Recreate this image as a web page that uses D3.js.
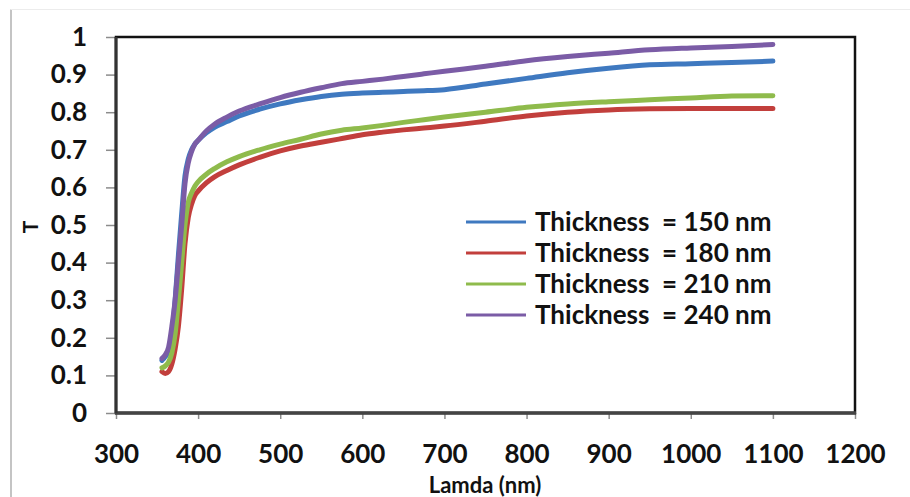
<!DOCTYPE html>
<html>
<head>
<meta charset="utf-8">
<script src="https://cdn.jsdelivr.net/npm/d3@7"></script>
<style>
  html, body { margin: 0; padding: 0; background: #fff; }
  svg { display: block; font-family: Lato, "Noto Sans", sans-serif; font-weight: 700; }
  .legend text { white-space: pre; }
</style>
</head>
<body>
<svg id="chart" width="910" height="497"></svg>
<script>
// Wavelength samples (nm)
const lambda = [356, 360, 364, 368, 372, 376, 380, 384, 388, 392, 396, 400, 410, 420, 435, 450,
  475, 500, 525, 550, 575, 600, 625, 650, 675, 700, 750, 800, 850, 900, 950, 1000, 1050, 1100];

// Transmittance for each film thickness
const t150 = [0.14, 0.15, 0.165, 0.21, 0.30, 0.42, 0.53, 0.63, 0.675, 0.70, 0.715, 0.725, 0.745, 0.76, 0.775, 0.79,
  0.808, 0.822, 0.833, 0.842, 0.848, 0.851, 0.853, 0.855, 0.857, 0.860, 0.875, 0.89, 0.905, 0.917, 0.926, 0.929, 0.932, 0.936];
const t180 = [0.11, 0.105, 0.11, 0.13, 0.17, 0.23, 0.33, 0.45, 0.52, 0.555, 0.578, 0.59, 0.612, 0.628, 0.645, 0.66,
  0.68, 0.697, 0.71, 0.72, 0.73, 0.74, 0.747, 0.753, 0.758, 0.763, 0.776, 0.79, 0.80, 0.806, 0.809, 0.81, 0.81, 0.81];
const t210 = [0.12, 0.125, 0.135, 0.16, 0.21, 0.30, 0.40, 0.50, 0.56, 0.585, 0.603, 0.615, 0.635, 0.65, 0.668, 0.682,
  0.70, 0.715, 0.728, 0.742, 0.752, 0.758, 0.765, 0.773, 0.78, 0.787, 0.80, 0.813, 0.822, 0.828, 0.833, 0.838, 0.843, 0.844];
const t240 = [0.145, 0.155, 0.175, 0.23, 0.30, 0.40, 0.50, 0.61, 0.665, 0.695, 0.715, 0.725, 0.75, 0.768, 0.787, 0.803,
  0.822, 0.839, 0.853, 0.865, 0.876, 0.882, 0.888, 0.895, 0.902, 0.909, 0.922, 0.937, 0.948, 0.957, 0.966, 0.971, 0.975, 0.98];

const seriesNames = ["Thickness  = 150 nm", "Thickness  = 180 nm", "Thickness  = 210 nm", "Thickness  = 240 nm"];
const seriesValues = [t150, t180, t210, t240];
const seriesColors = ["#3f79c0", "#c23f3c", "#8fbb4c", "#7b5ca6"];

const xTicks = [300, 400, 500, 600, 700, 800, 900, 1000, 1100, 1200];
const yTicks = [0, 0.1, 0.2, 0.3, 0.4, 0.5, 0.6, 0.7, 0.8, 0.9, 1];
const yTickLabels = ["0", "0.1", "0.2", "0.3", "0.4", "0.5", "0.6", "0.7", "0.8", "0.9", "1"];

const svg = d3.select("#chart");
const plot = { left: 116, top: 37, right: 855, bottom: 413 };

const x = d3.scaleLinear().domain([300, 1200]).range([plot.left, plot.right]);
const y = d3.scaleLinear().domain([0, 1]).range([plot.bottom, plot.top]);

// outer chart-area border (left and top edges visible)
svg.append("line").attr("x1", 11).attr("x2", 11).attr("y1", 9.5).attr("y2", 497)
  .attr("stroke", "#c4c4c4").attr("stroke-width", 2);
svg.append("line").attr("x1", 11).attr("x2", 910).attr("y1", 9.5).attr("y2", 9.5)
  .attr("stroke", "#ececec").attr("stroke-width", 1);

// y axis
const yAxis = svg.append("g")
  .attr("transform", `translate(${plot.left},0)`)
  .call(d3.axisLeft(y).tickValues(yTicks).tickSize(10).tickPadding(19)
    .tickFormat((d, i) => yTickLabels[i]));
yAxis.select(".domain").remove();
yAxis.selectAll(".tick line").attr("stroke", "#8c8c8c").attr("stroke-width", 1.5);
yAxis.selectAll(".tick text").attr("font-size", 26).attr("font-family", "Lato").attr("font-weight", 700).attr("fill", "#111");

// x axis
const xAxis = svg.append("g")
  .attr("transform", `translate(0,${plot.bottom})`)
  .call(d3.axisBottom(x).tickValues(xTicks).tickSize(6).tickPadding(26).tickFormat(d3.format("d")));
xAxis.select(".domain").remove();
xAxis.selectAll(".tick line").attr("stroke", "#8c8c8c").attr("stroke-width", 1.5);
xAxis.selectAll(".tick text").attr("font-size", 26).attr("font-family", "Lato").attr("font-weight", 700).attr("fill", "#111");

// plot area frame
svg.append("rect")
  .attr("x", plot.left).attr("y", plot.top)
  .attr("width", plot.right - plot.left).attr("height", plot.bottom - plot.top)
  .attr("fill", "none").attr("stroke", "#111").attr("stroke-width", 2.5);
svg.append("line").attr("x1", plot.left - 1).attr("x2", plot.right + 1)
  .attr("y1", plot.bottom).attr("y2", plot.bottom)
  .attr("stroke", "#444").attr("stroke-width", 3.5);
svg.append("line").attr("x1", plot.left).attr("x2", plot.left)
  .attr("y1", plot.top).attr("y2", plot.bottom)
  .attr("stroke", "#333").attr("stroke-width", 3);

// transmittance curves
const line = d3.line()
  .x((d, i) => x(lambda[i]))
  .y(d => y(d))
  .curve(d3.curveMonotoneX);

svg.append("g").selectAll("path")
  .data(seriesValues)
  .join("path")
  .attr("d", d => line(d))
  .attr("fill", "none")
  .attr("stroke", (d, i) => seriesColors[i])
  .attr("stroke-width", 5)
  .attr("stroke-linejoin", "round")
  .attr("stroke-linecap", "round");

// axis titles
svg.append("text")
  .attr("x", 485).attr("y", 493)
  .attr("text-anchor", "middle")
  .attr("font-size", 22).attr("fill", "#111")
  .text("Lamda (nm)");

svg.append("text")
  .attr("transform", "translate(38,227) rotate(-90)")
  .attr("text-anchor", "middle")
  .attr("font-size", 21).attr("fill", "#111")
  .text("T");

// legend
const legend = svg.append("g").attr("class", "legend");
const rowY = d3.scalePoint().domain(d3.range(seriesNames.length)).range([222, 315]);
const rows = legend.selectAll("g").data(seriesNames).join("g")
  .attr("transform", (d, i) => `translate(0,${rowY(i)})`);
rows.append("line")
  .attr("x1", 466).attr("x2", 526).attr("y1", 0).attr("y2", 0)
  .attr("stroke", (d, i) => seriesColors[i]).attr("stroke-width", 3);
rows.append("text")
  .attr("x", 535).attr("y", 0).attr("dy", "0.36em")
  .attr("font-size", 26).attr("fill", "#111")
  .text(d => d);
</script>
</body>
</html>
